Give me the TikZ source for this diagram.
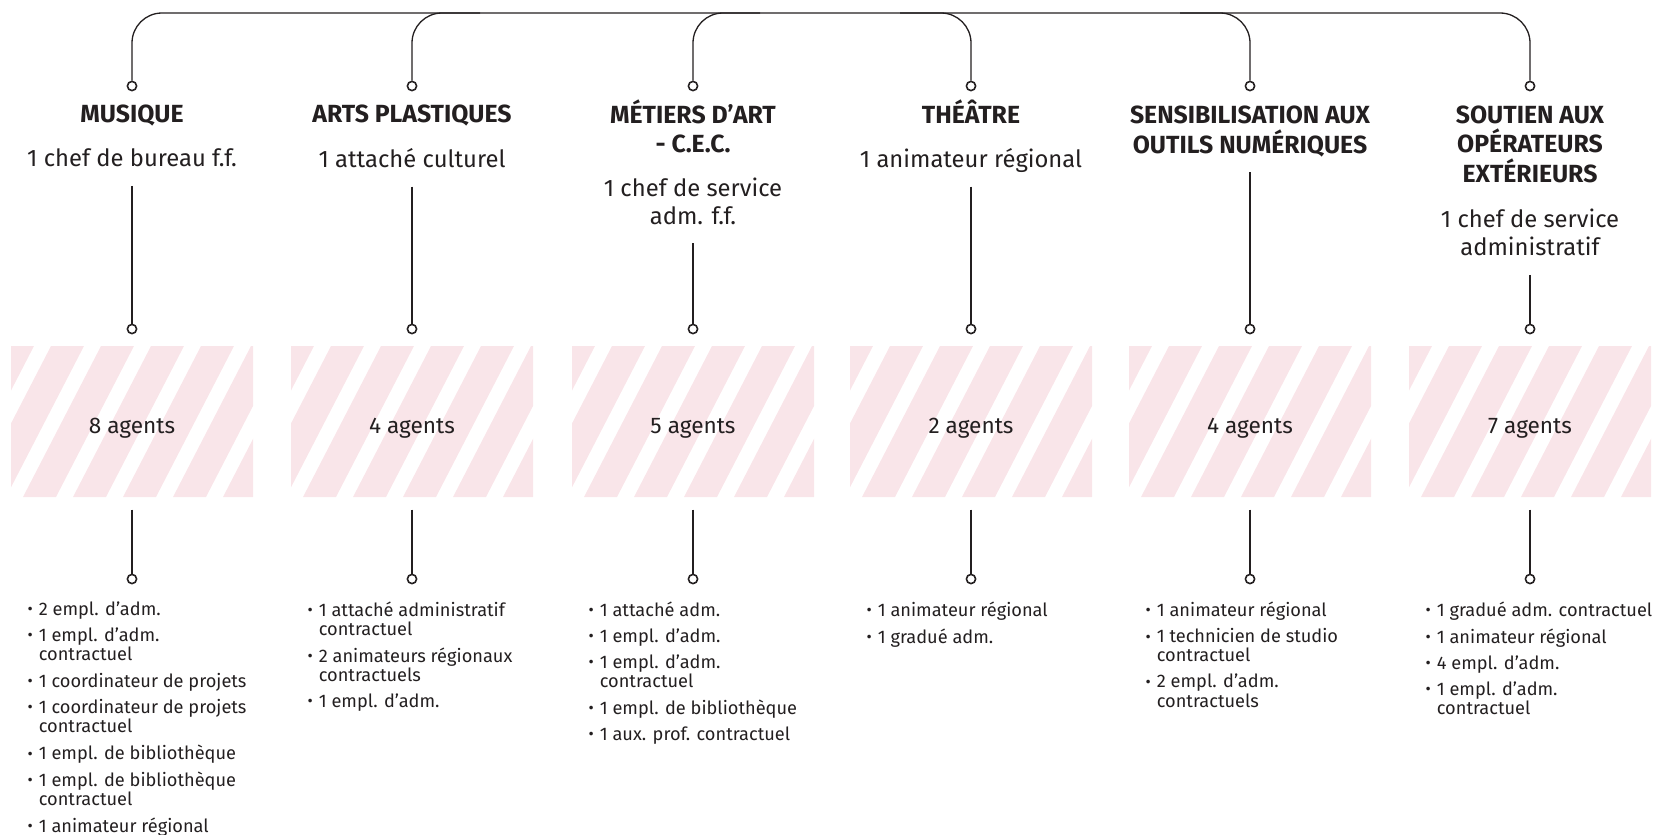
\documentclass[tikz,border=0pt]{standalone}
\usepackage{fontspec}
\setmainfont{Fira Sans}
\definecolor{ink}{HTML}{231F20}
\definecolor{blush}{HTML}{F9E5E9}
\newcommand{\blt}{\raisebox{0.3pt}{\fontsize{8}{8}\selectfont •}}
\newcommand{\nxt}{\\[3.35pt]}
\newcommand{\stripes}[1]{\begin{scope}
    \clip (#1-121,346) rectangle (#1+121,497);
    \foreach \k in {0,...,7}
      \fill[blush] ({#1-131+50*\k},346) -- ++(33,0) -- ++(-78,151) -- ++(-33,0) -- cycle;
  \end{scope}}
\tikzset{dot/.style={circle,draw=ink,fill=white,line width=0.8pt,minimum size=4.6pt,inner sep=0pt},
  head/.style={font=\fontsize{12.4}{14.8}\selectfont\bfseries,align=center,inner sep=0pt,text depth=0pt,outer ysep=9.5pt},
  sub/.style={font=\fontsize{11.9}{14}\selectfont,align=center,inner sep=0pt,text depth=0pt,outer ysep=9.5pt},
  hatch/.style={minimum width=121pt,minimum height=75.5pt,inner sep=0pt,outer ysep=6.5pt,text height=12.3pt,text depth=0pt,
    font=\fontsize{11.3}{14}\selectfont},
  staff/.style={anchor=north west,inner sep=0pt,font=\fontsize{9.1}{9.3}\selectfont}}

\begin{document}
\begin{tikzpicture}[x=0.5pt,y=-0.5pt,color=ink,line width=0.65pt]
  \useasboundingbox (0,0) rectangle (1654,835);
  \coordinate (j2) at ( 480,13);
  \coordinate (j3) at ( 760,13);
  \coordinate (j4) at ( 900,13);
  \coordinate (j5) at (1180,13);
  \coordinate (j6) at (1530,13);
  \node[dot] (t1) at ( 132,86) {};
  \node[dot] (t2) at ( 412,86) {};
  \node[dot] (t3) at ( 693,86) {};
  \node[dot] (t4) at ( 971,86) {};
  \node[dot] (t5) at (1250,86) {};
  \node[dot] (t6) at (1530,86) {};
  \draw[rounded corners=15pt] (t1) |- (j6) -- (t6);
  \draw[rounded corners=15pt] (t2) |- (j2);
  \draw[rounded corners=15pt] (t3) |- (j3);
  \draw[rounded corners=15pt] (t4) |- (j4);
  \draw[rounded corners=15pt] (t5) |- (j5);

  \node[head] (h1) at ( 132,114) {MUSIQUE};
  \node[head] (h2) at ( 412,114) {ARTS PLASTIQUES};
  \node[head] (h3) at ( 693,126) {MÉTIERS D’ART\\- C.E.C.};
  \node[head] (h4) at ( 971,112) {THÉÂTRE};
  \node[head] (h5) at (1250,129.5) {SENSIBILISATION AUX\\OUTILS NUMÉRIQUES};
  \node[head] (h6) at (1530,144) {SOUTIEN AUX\\OPÉRATEURS\\EXTÉRIEURS};

  \node[sub] (s1) at ( 132,158) {1 chef de bureau f.f.};
  \node[sub] (s2) at ( 412,158) {1 attaché culturel};
  \node[sub] (s3) at ( 693,201) {1 chef de service\\adm. f.f.};
  \node[sub] (s4) at ( 971,158) {1 animateur régional};
  \node[sub] (s6) at (1530,232.5) {1 chef de service\\administratif};

  \node[dot] (m1) at ( 132,329) {};
  \node[dot] (m2) at ( 412,329) {};
  \node[dot] (m3) at ( 693,329) {};
  \node[dot] (m4) at ( 971,329) {};
  \node[dot] (m5) at (1250,329) {};
  \node[dot] (m6) at (1530,329) {};
  \draw (s1) -- (m1);
  \draw (s2) -- (m2);
  \draw (s3) -- (m3);
  \draw (s4) -- (m4);
  \draw (h5) -- (m5);
  \draw (s6) -- (m6);

  \stripes{132}
  \stripes{412}
  \stripes{693}
  \stripes{971}
  \stripes{1250}
  \stripes{1530}
  \node[hatch] (b1) at ( 132,421) {8 agents};
  \node[hatch] (b2) at ( 412,421) {4 agents};
  \node[hatch] (b3) at ( 693,421) {5 agents};
  \node[hatch] (b4) at ( 971,421) {2 agents};
  \node[hatch] (b5) at (1250,421) {4 agents};
  \node[hatch] (b6) at (1530,421) {7 agents};

  \node[dot] (n1) at ( 132,579) {};
  \node[dot] (n2) at ( 412,579) {};
  \node[dot] (n3) at ( 693,579) {};
  \node[dot] (n4) at ( 971,579) {};
  \node[dot] (n5) at (1250,579) {};
  \node[dot] (n6) at (1530,579) {};
  \draw (b1) -- (n1);
  \draw (b2) -- (n2);
  \draw (b3) -- (n3);
  \draw (b4) -- (n4);
  \draw (b5) -- (n5);
  \draw (b6) -- (n6);

  \node[staff] (l1) at (27,601) {\begin{tabular}{@{}l@{\hspace{3pt}}l@{}}
    \blt & 2 empl. d’adm.\nxt
    \blt & 1 empl. d’adm.\\ & contractuel\nxt
    \blt & 1 coordinateur de projets\nxt
    \blt & 1 coordinateur de projets\\ & contractuel\nxt
    \blt & 1 empl. de bibliothèque\nxt
    \blt & 1 empl. de bibliothèque\\ & contractuel\nxt
    \blt & 1 animateur régional
  \end{tabular}};
  \node[staff] (l2) at (307,601) {\begin{tabular}{@{}l@{\hspace{3pt}}l@{}}
    \blt & 1 attaché administratif\\ & contractuel\nxt
    \blt & 2 animateurs régionaux\\ & contractuels\nxt
    \blt & 1 empl. d’adm.
  \end{tabular}};
  \node[staff] (l3) at (588,601) {\begin{tabular}{@{}l@{\hspace{3pt}}l@{}}
    \blt & 1 attaché adm.\nxt
    \blt & 1 empl. d’adm.\nxt
    \blt & 1 empl. d’adm.\\ & contractuel\nxt
    \blt & 1 empl. de bibliothèque\nxt
    \blt & 1 aux. prof. contractuel
  \end{tabular}};
  \node[staff] (l4) at (866,601) {\begin{tabular}{@{}l@{\hspace{3pt}}l@{}}
    \blt & 1 animateur régional\nxt
    \blt & 1 gradué adm.
  \end{tabular}};
  \node[staff] (l5) at (1145,601) {\begin{tabular}{@{}l@{\hspace{3pt}}l@{}}
    \blt & 1 animateur régional\nxt
    \blt & 1 technicien de studio\\ & contractuel\nxt
    \blt & 2 empl. d’adm.\\ & contractuels
  \end{tabular}};
  \node[staff] (l6) at (1425,601) {\begin{tabular}{@{}l@{\hspace{3pt}}l@{}}
    \blt & 1 gradué adm. contractuel\nxt
    \blt & 1 animateur régional\nxt
    \blt & 4 empl. d’adm.\nxt
    \blt & 1 empl. d’adm.\\ & contractuel
  \end{tabular}};
\end{tikzpicture}
\end{document}
